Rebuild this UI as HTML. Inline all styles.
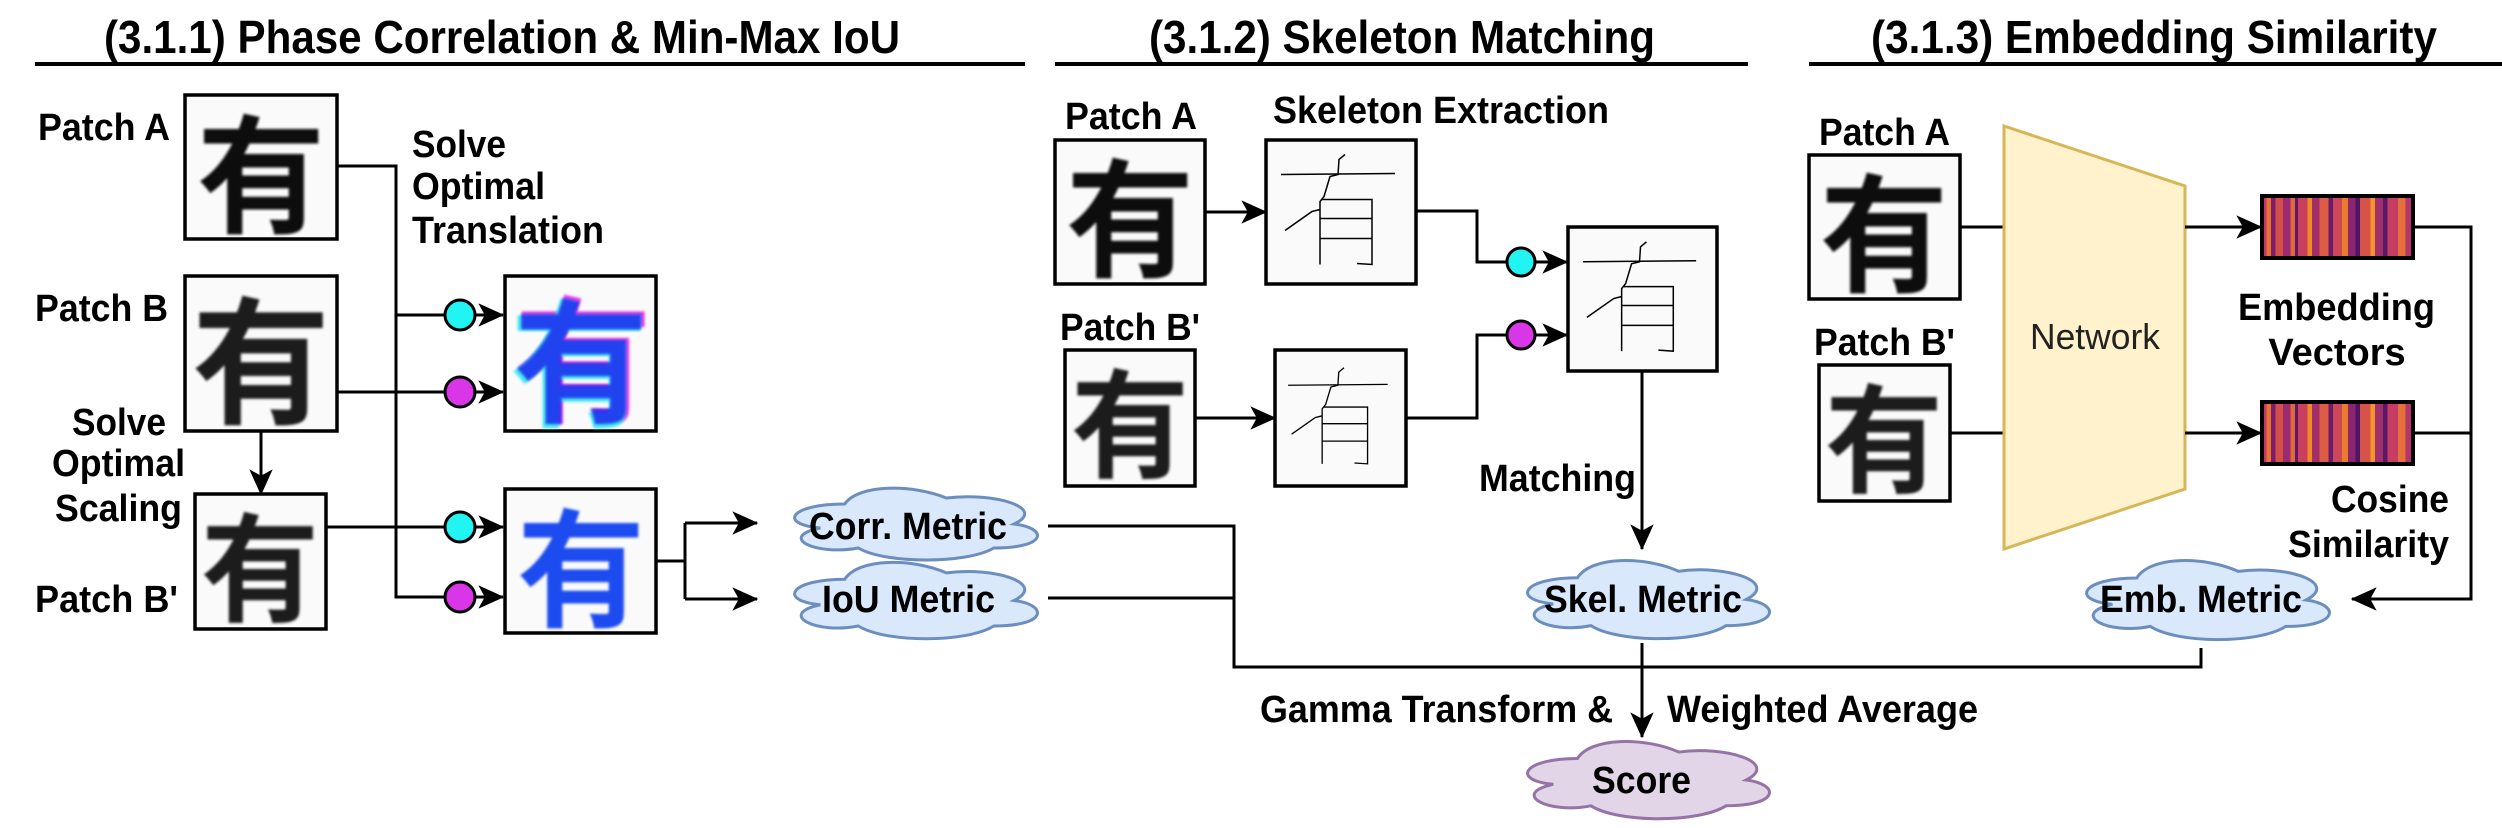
<!DOCTYPE html>
<html><head><meta charset="utf-8"><style>
html,body{margin:0;padding:0;background:#fff}
svg{display:block}
text{font-family:"Liberation Sans","Noto Sans CJK SC",sans-serif}
.b{font-weight:bold;font-size:38px;fill:#000}
.t{font-weight:bold;font-size:46px;fill:#000}
.ln{stroke:#000;stroke-width:3;fill:none}
.box{stroke:#000;stroke-width:3.5;fill:#fafafa}
.ch{font-family:"Noto Sans CJK SC","Noto Sans CJK JP",sans-serif;font-weight:bold;font-size:128px}
</style></head><body>
<svg width="2502" height="828" viewBox="0 0 2502 828" xmlns="http://www.w3.org/2000/svg">
<defs>
<marker id="ar" viewBox="0 0 20 20" refX="19" refY="10" markerWidth="26" markerHeight="26" markerUnits="userSpaceOnUse" orient="auto">
<path d="M0,1 L20,10 L0,19 L5,10 Z" fill="#000"/></marker>
<filter id="bl"><feGaussianBlur stdDeviation="1.4"/></filter>
<symbol id="cloud" viewBox="0 0 100 100" preserveAspectRatio="none">
<path d="M25,25 C5,25 0,50 16,55 C0,66 14,90 30,80 C40,100 70,100 80,80 C100,80 100,55 87.5,50 C100,30 80,10 62.5,17.5 C50,0 30,0 25,25 Z" vector-effect="non-scaling-stroke"/>
</symbol>
<symbol id="skel" viewBox="0 0 150 143">
<g fill="none" stroke="#000" stroke-width="1.5">
<path d="M15,34 L129,33"/>
<path d="M79,14 L73,19 L72,34 L64,36 L58,56 L54,61 L54,124"/>
<path d="M54,69 L46,71 L19,90"/>
<path d="M56,59 L106,59 L106,124 L91,123"/>
<path d="M54,78 L106,78 M54,98 L106,98"/>
</g></symbol>
<linearGradient id="emb" x1="0" x2="1" y1="0" y2="0">
<stop offset="0" stop-color="#c0386a"/><stop offset=".03" stop-color="#c0386a"/><stop offset=".03" stop-color="#e8732e"/><stop offset=".06" stop-color="#e8732e"/><stop offset=".06" stop-color="#7a1f6e"/><stop offset=".09" stop-color="#7a1f6e"/><stop offset=".09" stop-color="#d44f4a"/><stop offset=".14" stop-color="#d44f4a"/><stop offset=".14" stop-color="#9b2a70"/><stop offset=".19" stop-color="#9b2a70"/><stop offset=".19" stop-color="#e06a3a"/><stop offset=".22" stop-color="#e06a3a"/><stop offset=".22" stop-color="#5c1a66"/><stop offset=".24" stop-color="#5c1a66"/><stop offset=".24" stop-color="#c9405e"/><stop offset=".3" stop-color="#c9405e"/><stop offset=".3" stop-color="#f08a25"/><stop offset=".33" stop-color="#f08a25"/><stop offset=".33" stop-color="#a32f6a"/><stop offset=".38" stop-color="#a32f6a"/><stop offset=".38" stop-color="#de5b44"/><stop offset=".44" stop-color="#de5b44"/><stop offset=".44" stop-color="#6a1d6c"/><stop offset=".47" stop-color="#6a1d6c"/><stop offset=".47" stop-color="#cc4858"/><stop offset=".53" stop-color="#cc4858"/><stop offset=".53" stop-color="#ea7c2c"/><stop offset=".57" stop-color="#ea7c2c"/><stop offset=".57" stop-color="#8a2570"/><stop offset=".62" stop-color="#8a2570"/><stop offset=".62" stop-color="#4f1563"/><stop offset=".65" stop-color="#4f1563"/><stop offset=".65" stop-color="#d75249"/><stop offset=".72" stop-color="#d75249"/><stop offset=".72" stop-color="#f29627"/><stop offset=".75" stop-color="#f29627"/><stop offset=".75" stop-color="#a0306c"/><stop offset=".8" stop-color="#a0306c"/><stop offset=".8" stop-color="#5a1866"/><stop offset=".83" stop-color="#5a1866"/><stop offset=".83" stop-color="#c53d62"/><stop offset=".9" stop-color="#c53d62"/><stop offset=".9" stop-color="#e5703a"/><stop offset=".95" stop-color="#e5703a"/><stop offset=".95" stop-color="#b3356a"/><stop offset="1" stop-color="#b3356a"/>
</linearGradient>
</defs>

<!-- titles -->
<text class="t" x="104" y="53" textLength="796" lengthAdjust="spacingAndGlyphs">(3.1.1) Phase Correlation &amp; Min-Max IoU</text>
<line x1="35" y1="64" x2="1025" y2="64" stroke="#000" stroke-width="4"/>
<text class="t" x="1149" y="53" textLength="506" lengthAdjust="spacingAndGlyphs">(3.1.2) Skeleton Matching</text>
<line x1="1055" y1="64" x2="1748" y2="64" stroke="#000" stroke-width="4"/>
<text class="t" x="1871" y="53" textLength="566" lengthAdjust="spacingAndGlyphs">(3.1.3) Embedding Similarity</text>
<line x1="1809" y1="64" x2="2502" y2="64" stroke="#000" stroke-width="4"/>

<!-- section 1 -->
<text class="b" x="38" y="140" textLength="132" lengthAdjust="spacingAndGlyphs">Patch A</text>
<text class="b" x="35" y="321" textLength="133" lengthAdjust="spacingAndGlyphs">Patch B</text>
<text class="b" x="35" y="612" textLength="143" lengthAdjust="spacingAndGlyphs">Patch B'</text>
<text class="b" x="72" y="435" textLength="94" lengthAdjust="spacingAndGlyphs">Solve</text>
<text class="b" x="52" y="476" textLength="133" lengthAdjust="spacingAndGlyphs">Optimal</text>
<text class="b" x="55" y="521" textLength="127" lengthAdjust="spacingAndGlyphs">Scaling</text>
<text class="b" x="412" y="157" textLength="94" lengthAdjust="spacingAndGlyphs">Solve</text>
<text class="b" x="412" y="199" textLength="133" lengthAdjust="spacingAndGlyphs">Optimal</text>
<text class="b" x="412" y="243" textLength="192" lengthAdjust="spacingAndGlyphs">Translation</text>

<rect class="box" x="185" y="95" width="152" height="144"/>
<text class="ch" x="261" y="167" text-anchor="middle" dominant-baseline="central" fill="#111" filter="url(#bl)">有</text>
<rect class="box" x="185" y="276" width="152" height="155"/>
<text class="ch" x="261" y="353" text-anchor="middle" dominant-baseline="central" fill="#1a1a1a" filter="url(#bl)" style="font-size:138px">有</text>
<rect class="box" x="195" y="494" width="131" height="135"/>
<text class="ch" x="260" y="561" text-anchor="middle" dominant-baseline="central" fill="#1a1a1a" filter="url(#bl)" style="font-size:118px">有</text>

<path class="ln" d="M261,431 L261,494" marker-end="url(#ar)"/>
<path class="ln" d="M337,166 L396,166 L396,597 L503,597" marker-end="url(#ar)"/>
<path class="ln" d="M396,315 L503,315" marker-end="url(#ar)"/>
<path class="ln" d="M337,392 L503,392" marker-end="url(#ar)"/>
<path class="ln" d="M326,527 L503,527" marker-end="url(#ar)"/>
<circle cx="460" cy="315" r="15" fill="#22f4f4" stroke="#000" stroke-width="3"/>
<circle cx="460" cy="392" r="15" fill="#d936e8" stroke="#000" stroke-width="3"/>
<circle cx="460" cy="527" r="15" fill="#22f4f4" stroke="#000" stroke-width="3"/>
<circle cx="460" cy="597" r="15" fill="#d936e8" stroke="#000" stroke-width="3"/>

<rect class="box" x="505" y="276" width="151" height="155"/>
<text class="ch" x="583" y="352" text-anchor="middle" dominant-baseline="central" fill="#e23de6" filter="url(#bl)" style="font-size:138px">有</text>
<text class="ch" x="579" y="356" text-anchor="middle" dominant-baseline="central" fill="#30e8f0" filter="url(#bl)" style="font-size:138px;opacity:.9">有</text>
<text class="ch" x="581" y="354" text-anchor="middle" dominant-baseline="central" fill="#1a2cf0" filter="url(#bl)" style="font-size:134px;opacity:.85">有</text>
<rect class="box" x="505" y="489" width="151" height="144"/>
<text class="ch" x="581" y="561" text-anchor="middle" dominant-baseline="central" fill="#1f4cf0" filter="url(#bl)" style="font-size:128px">有</text>

<path class="ln" d="M656,561 L685,561 M685,523 L685,599"/>
<path class="ln" d="M685,523 L757,523" marker-end="url(#ar)"/>
<path class="ln" d="M685,599 L757,599" marker-end="url(#ar)"/>

<g fill="#dae8fc" stroke="#6c8ebf" stroke-width="3">
<use href="#cloud" x="777" y="484" width="271" height="80"/>
<use href="#cloud" x="777" y="558" width="271" height="85"/>
<use href="#cloud" x="1510" y="556" width="270" height="87"/>
<use href="#cloud" x="2069" y="556" width="271" height="88"/>
</g>
<g fill="#e1d5e7" stroke="#9673a6" stroke-width="3">
<use href="#cloud" x="1510" y="737" width="270" height="86"/>
</g>
<text class="b" x="809" y="539" textLength="198" lengthAdjust="spacingAndGlyphs">Corr. Metric</text>
<text class="b" x="822" y="612" textLength="173" lengthAdjust="spacingAndGlyphs">IoU Metric</text>
<text class="b" x="1544" y="612" textLength="198" lengthAdjust="spacingAndGlyphs">Skel. Metric</text>
<text class="b" x="2100" y="612" textLength="202" lengthAdjust="spacingAndGlyphs">Emb. Metric</text>
<text class="b" x="1592" y="793" textLength="99" lengthAdjust="spacingAndGlyphs">Score</text>

<!-- bottom connectors -->
<path class="ln" d="M1048,526 L1234,526 L1234,667 L2201,667 L2201,648"/>
<path class="ln" d="M1048,598 L1234,598"/>
<path class="ln" d="M1642,643 L1642,737" marker-end="url(#ar)"/>
<text class="b" x="1260" y="722" textLength="353" lengthAdjust="spacingAndGlyphs">Gamma Transform &amp;</text>
<text class="b" x="1667" y="722" textLength="311" lengthAdjust="spacingAndGlyphs">Weighted Average</text>

<!-- section 2 -->
<text class="b" x="1065" y="129" textLength="132" lengthAdjust="spacingAndGlyphs">Patch A</text>
<text class="b" x="1273" y="123" textLength="336" lengthAdjust="spacingAndGlyphs">Skeleton Extraction</text>
<text class="b" x="1060" y="340" textLength="140" lengthAdjust="spacingAndGlyphs">Patch B'</text>
<text class="b" x="1479" y="491" textLength="157" lengthAdjust="spacingAndGlyphs">Matching</text>

<rect class="box" x="1055" y="140" width="150" height="144"/>
<text class="ch" x="1130" y="211" text-anchor="middle" dominant-baseline="central" fill="#111" filter="url(#bl)">有</text>
<rect class="box" x="1266" y="140" width="150" height="144" fill="#fff"/>
<use href="#skel" x="1266" y="140" width="150" height="144"/>
<rect class="box" x="1065" y="350" width="130" height="136"/>
<text class="ch" x="1130" y="417" text-anchor="middle" dominant-baseline="central" fill="#1a1a1a" filter="url(#bl)" style="font-size:118px">有</text>
<rect class="box" x="1275" y="350" width="131" height="136" fill="#fff"/>
<use href="#skel" x="1275" y="350" width="131" height="136"/>
<rect class="box" x="1568" y="227" width="149" height="144" fill="#fff"/>
<use href="#skel" x="1568" y="227" width="149" height="144"/>

<path class="ln" d="M1205,212 L1266,212" marker-end="url(#ar)"/>
<path class="ln" d="M1195,418 L1275,418" marker-end="url(#ar)"/>
<path class="ln" d="M1416,211 L1477,211 L1477,262 L1567,262" marker-end="url(#ar)"/>
<path class="ln" d="M1406,418 L1477,418 L1477,335 L1567,335" marker-end="url(#ar)"/>
<circle cx="1521" cy="262" r="14" fill="#22f4f4" stroke="#000" stroke-width="3"/>
<circle cx="1521" cy="335" r="14" fill="#d936e8" stroke="#000" stroke-width="3"/>
<path class="ln" d="M1642,371 L1642,549" marker-end="url(#ar)"/>

<!-- section 3 -->
<text class="b" x="1819" y="145" textLength="131" lengthAdjust="spacingAndGlyphs">Patch A</text>
<text class="b" x="1814" y="355" textLength="141" lengthAdjust="spacingAndGlyphs">Patch B'</text>
<rect class="box" x="1809" y="155" width="151" height="144"/>
<text class="ch" x="1884" y="226" text-anchor="middle" dominant-baseline="central" fill="#111" filter="url(#bl)">有</text>
<rect class="box" x="1819" y="365" width="131" height="136"/>
<text class="ch" x="1884" y="432" text-anchor="middle" dominant-baseline="central" fill="#1a1a1a" filter="url(#bl)" style="font-size:118px">有</text>

<path class="ln" d="M1960,227 L2004,227 M1950,433 L2004,433"/>
<polygon points="2004,126 2185,186 2185,489 2004,549" fill="#fff2cc" stroke="#d6b656" stroke-width="3"/>
<text x="2030" y="349" textLength="130" lengthAdjust="spacingAndGlyphs" style="font-size:36px;fill:#222">Network</text>
<path class="ln" d="M2185,227 L2261,227" marker-end="url(#ar)"/>
<path class="ln" d="M2185,433 L2261,433" marker-end="url(#ar)"/>
<rect x="2262" y="196" width="151" height="62" fill="url(#emb)" stroke="#000" stroke-width="4"/>
<rect x="2262" y="402" width="151" height="62" fill="url(#emb)" stroke="#000" stroke-width="4"/>
<text class="b" x="2238" y="320" textLength="197" lengthAdjust="spacingAndGlyphs">Embedding</text>
<text class="b" x="2337" y="365" text-anchor="middle">Vectors</text>
<text class="b" x="2331" y="512" textLength="118" lengthAdjust="spacingAndGlyphs">Cosine</text>
<text class="b" x="2288" y="557" textLength="161" lengthAdjust="spacingAndGlyphs">Similarity</text>
<path class="ln" d="M2413,227 L2471,227 L2471,599 L2352,599" marker-end="url(#ar)"/>
<path class="ln" d="M2413,433 L2471,433"/>
</svg>
</body></html>
